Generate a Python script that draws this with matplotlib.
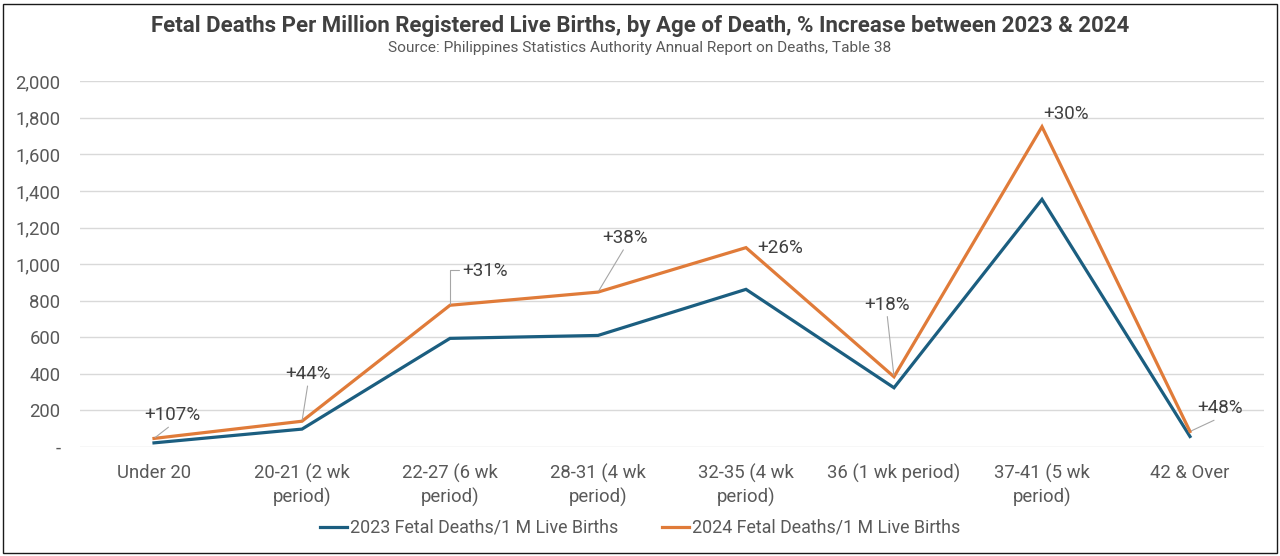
import matplotlib.pyplot as plt
from matplotlib.patches import Rectangle
from matplotlib.ticker import FuncFormatter

plt.rcParams["font.family"] = ["Roboto", "DejaVu Sans"]

CATEGORIES = ["Under 20", "20-21 (2 wk\nperiod)", "22-27 (6 wk\nperiod)", "28-31 (4 wk\nperiod)",
              "32-35 (4 wk\nperiod)", "36 (1 wk period)", "37-41 (5 wk\nperiod)", "42 & Over"]
DEATHS_2023 = [22.7, 98, 594, 610, 862, 324, 1354, 57.5]
DEATHS_2024 = [47, 141, 775, 847, 1090, 384, 1751, 85]
INCREASE_LABELS = ["+107%", "+44%", "+31%", "+38%", "+26%", "+18%", "+30%", "+48%"]

BLUE = "#1b5e80"
ORANGE = "#e07b39"
TICK_COLOR = "#595959"
TEXT_COLOR = "#404040"
GRID_COLOR = "#d9d9d9"
LEADER_COLOR = "#a6a6a6"

# label offsets in pixels from the 2024 point, and the kind of leader line
LABEL_OFFSETS = [(18, 23, "line"), (6, 47, "line"), (35, 34, "elbow"), (27, 54, "line"),
                 (34, 0, None), (-7, 72, "line"), (24, 13, None), (30, 23, "line")]

fig = plt.figure(figsize=(12.8, 5.56), dpi=100)
ax = fig.add_axes([0.0625, 0.196, 0.925, 0.658])

x = list(range(len(CATEGORIES)))
ax.plot(x, DEATHS_2023, color=BLUE, lw=2.3, label="2023 Fetal Deaths/1 M Live Births", solid_joinstyle="miter")
ax.plot(x, DEATHS_2024, color=ORANGE, lw=2.3, label="2024 Fetal Deaths/1 M Live Births", solid_joinstyle="miter")

ax.set_xlim(-0.5, len(CATEGORIES) - 0.5)
ax.set_ylim(0, 2000)
ax.set_yticks(range(0, 2001, 200))
ax.yaxis.set_major_formatter(FuncFormatter(lambda v, p: "-" if v == 0 else f"{int(v):,}"))
ax.set_xticks(x)
ax.set_xticklabels(CATEGORIES, linespacing=1.3)
ax.tick_params(axis="both", length=0, labelsize=13.3, colors=TICK_COLOR)
ax.tick_params(axis="x", pad=12)
ax.tick_params(axis="y", pad=14)
ax.grid(axis="y", color=GRID_COLOR, lw=1)
ax.set_axisbelow(True)
for s in ax.spines.values():
    s.set_visible(False)

for i, (lab, (dx, dy, kind)) in enumerate(zip(INCREASE_LABELS, LABEL_OFFSETS)):
    arrow = None
    if kind == "line":
        arrow = dict(arrowstyle="-", color=LEADER_COLOR, lw=0.8, relpos=(0.5, 0.0), shrinkA=0, shrinkB=1)
    elif kind == "elbow":
        arrow = dict(arrowstyle="-", color=LEADER_COLOR, lw=0.8, relpos=(0.0, 0.55), shrinkA=0, shrinkB=1,
                     connectionstyle="angle,angleA=0,angleB=90,rad=0")
    ax.annotate(lab, (i, DEATHS_2024[i]), xytext=(dx, dy), textcoords="offset pixels",
                ha="center", va="center", fontsize=13.5, color=TEXT_COLOR, arrowprops=arrow)

fig.text(0.5, 1 - 26 / 556, "Fetal Deaths Per Million Registered Live Births, by Age of Death, % Increase between 2023 & 2024",
         ha="center", va="center", fontsize=16, fontweight="bold", color=TEXT_COLOR)
fig.text(0.5, 1 - 48 / 556, "Source: Philippines Statistics Authority Annual Report on Deaths, Table 38",
         ha="center", va="center", fontsize=11.1, color=TICK_COLOR)

fig.legend(loc="center", bbox_to_anchor=(0.5, 1 - 528 / 556), ncol=2, frameon=False, fontsize=12.9,
           handlelength=1.5, handletextpad=0.15, columnspacing=2.45, labelcolor=TICK_COLOR)

fig.patches.append(Rectangle((3 / 1280, 3 / 556), 1274 / 1280, 549 / 556, transform=fig.transFigure,
                             fill=False, edgecolor="#1a1a1a", lw=1))

fig.savefig("out.png", dpi=100)
